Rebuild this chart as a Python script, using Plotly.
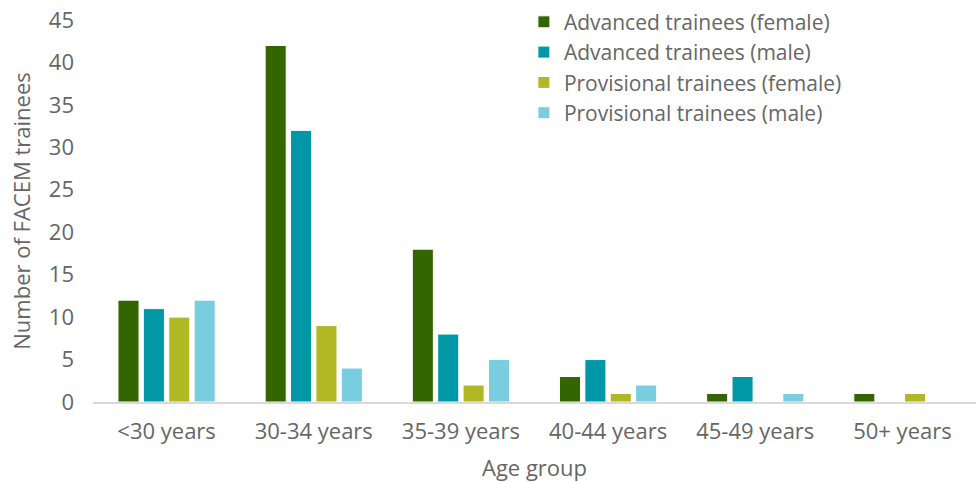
import plotly.graph_objects as go

age_groups = ["<30 years", "30-34 years", "35-39 years", "40-44 years", "45-49 years", "50+ years"]
adv_female = [12, 42, 18, 3, 1, 1]
adv_male = [11, 32, 8, 5, 3, 0]
prov_female = [10, 9, 2, 1, 0, 1]
prov_male = [12, 4, 5, 2, 1, 0]

series = [
    ("Advanced trainees (female)", adv_female, "#336600"),
    ("Advanced trainees (male)", adv_male, "#0097A7"),
    ("Provisional trainees (female)", prov_female, "#B0B823"),
    ("Provisional trainees (male)", prov_male, "#78CEDF"),
]

fig = go.Figure()
for name, vals, color in series:
    fig.add_trace(go.Bar(
        x=age_groups, y=vals, name=name,
        marker=dict(color=color, line=dict(color="#ffffff", width=1)),
    ))

font_family = "Open Sans, sans-serif"
grey = "#666666"
fs = 22

fig.update_layout(
    width=976, height=482,
    margin=dict(l=93, r=0, t=20, b=80),
    paper_bgcolor="white", plot_bgcolor="white",
    barmode="group", bargap=0.31, bargroupgap=0.17,
    font=dict(family=font_family, size=fs, color=grey),
    legend=dict(
        x=0.488, y=1.048, xanchor="left", yanchor="top",
        font=dict(size=21, color=grey),
        itemwidth=30, tracegroupgap=0,
        bgcolor="rgba(0,0,0,0)",
    ),
    xaxis=dict(
        title=dict(text="Age group", font=dict(size=fs, color=grey), standoff=16),
        showline=True, linecolor="#d9d9d9", linewidth=2,
        ticks="", tickfont=dict(size=fs, color=grey),
        ticklabelstandoff=9,
        showgrid=False,
    ),
    yaxis=dict(
        title=dict(text="Number of FACEM trainees", font=dict(size=fs, color=grey), standoff=12),
        range=[0, 45], dtick=5,
        showgrid=False, zeroline=False, showline=False,
        ticks="", tickfont=dict(size=fs, color=grey),
        ticklabelstandoff=18,
    ),
)

fig.write_html("out.html")
